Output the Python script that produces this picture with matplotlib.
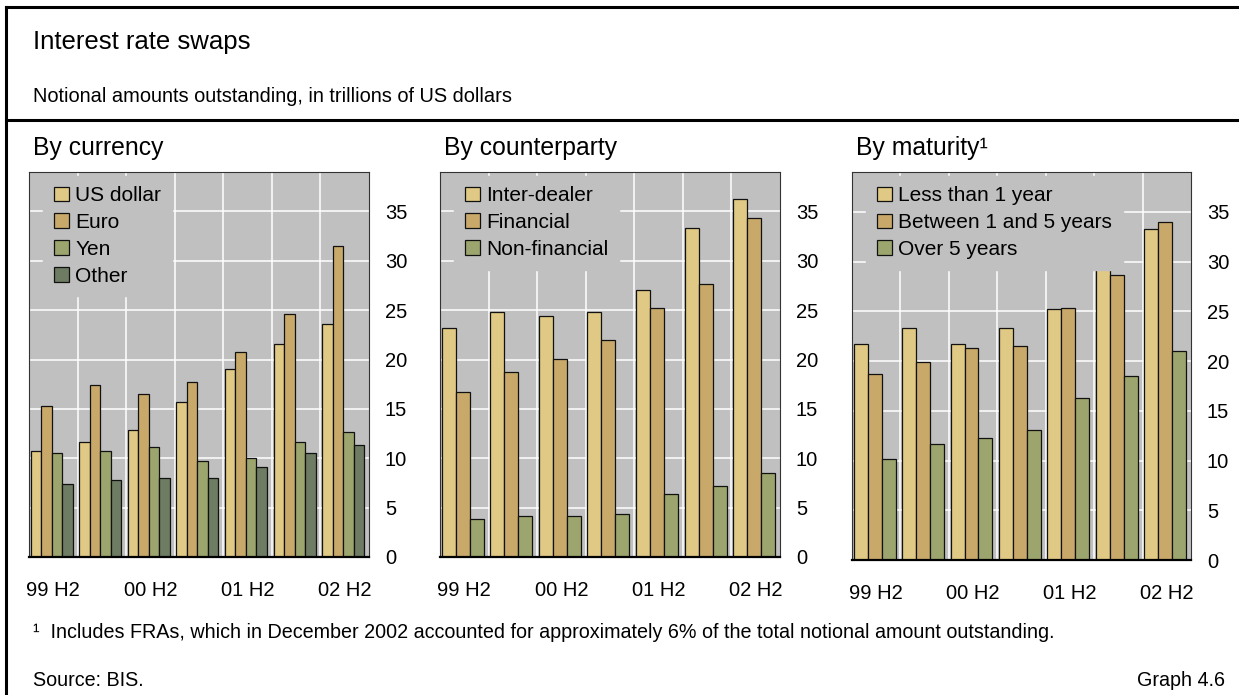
import matplotlib
matplotlib.use("Agg")
import matplotlib.pyplot as plt
from matplotlib.lines import Line2D
import numpy as np

plt.rcParams['font.family'] = ['Liberation Sans', 'DejaVu Sans']

# ---- data ----
periods = ["99 H2", "00 H1", "00 H2", "01 H1", "01 H2", "02 H1", "02 H2"]
tick_labels = ["99 H2", "", "00 H2", "", "01 H2", "", "02 H2"]

currency_names = ["US dollar", "Euro", "Yen", "Other"]
us_dollar = [10.7, 11.6, 12.9, 15.7, 19.0, 21.6, 23.6]
euro = [15.3, 17.4, 16.5, 17.7, 20.8, 24.6, 31.5]
yen = [10.5, 10.7, 11.1, 9.7, 10.0, 11.6, 12.7]
other = [7.4, 7.8, 8.0, 8.0, 9.1, 10.5, 11.3]

counterparty_names = ["Inter-dealer", "Financial", "Non-financial"]
inter_dealer = [23.2, 24.8, 24.4, 24.8, 27.0, 33.3, 36.3]
financial = [16.7, 18.7, 20.1, 22.0, 25.2, 27.7, 34.3]
non_financial = [3.8, 4.2, 4.2, 4.4, 6.4, 7.2, 8.5]

maturity_names = ["Less than 1 year", "Between 1 and 5 years", "Over 5 years"]
less_1y = [21.7, 23.3, 21.7, 23.3, 25.2, 30.2, 33.3]
between_1_5y = [18.7, 19.9, 21.3, 21.5, 25.3, 28.6, 34.0]
over_5y = [10.2, 11.7, 12.3, 13.1, 16.3, 18.5, 21.0]

colors = ["#E0C984", "#C8A96A", "#9CA56D", "#6D7C62"]
axes_bg = "#C0C0C0"

W, H = 1239, 695
fig = plt.figure(figsize=(W / 100, H / 100), dpi=100)


def px_axes(x, top, w, h):
    return fig.add_axes([x / W, 1 - (top + h) / H, w / W, h / H])


def panel(rect, title, names, series):
    ax = px_axes(*rect)
    ax.set_facecolor(axes_bg)
    n = len(series)
    ngroups = len(periods)
    total = 0.865
    bw = total / n
    start = 0.035
    idx = np.arange(ngroups)
    for k, (vals, col) in enumerate(zip(series, colors)):
        ax.bar(idx + start + bw * (k + 0.5), vals, width=bw, color=col,
               edgecolor="#111111", linewidth=0.9, zorder=2, label=names[k])
    ax.set_xlim(0, ngroups)
    ax.set_ylim(0, 39)
    ax.set_axisbelow(True)
    ax.set_yticks(range(0, 36, 5))
    ax.yaxis.tick_right()
    ax.tick_params(axis="y", length=0, pad=11.5, labelsize=14.5)
    ax.set_xticks(idx + 0.5, minor=False)
    ax.set_xticklabels(tick_labels)
    ax.tick_params(axis="x", which="both", length=0, pad=17, labelsize=14.5)
    ax.set_xticks(np.arange(1, ngroups), minor=True)
    ax.grid(True, which="minor", axis="x", color="white", linewidth=1.1)
    ax.grid(True, which="major", axis="y", color="white", linewidth=1.1)
    ax.grid(False, which="major", axis="x")
    for s in ["top", "left", "right"]:
        ax.spines[s].set_color("#333333")
        ax.spines[s].set_linewidth(0.8)
    ax.spines["bottom"].set_color("black")
    ax.spines["bottom"].set_linewidth(1.6)
    leg = ax.legend(loc="upper left", bbox_to_anchor=(0.042, 0.99),
                    borderaxespad=0, fontsize=15, frameon=True,
                    fancybox=False, facecolor=axes_bg, edgecolor=axes_bg,
                    framealpha=1, handlelength=0.72, handleheight=0.72,
                    handletextpad=0.32, labelspacing=0.38, borderpad=0.5)
    leg.set_zorder(5)
    fig.text(rect[0] / W + 4 / W, 1 - 148 / H, title, fontsize=17.8,
             va="center", ha="left")
    return ax


panel((29, 172, 340, 385), "By currency", currency_names,
      [us_dollar, euro, yen, other])
panel((440, 172, 340, 385), "By counterparty", counterparty_names,
      [inter_dealer, financial, non_financial])
panel((852, 172, 339, 388), "By maturity\u00b9", maturity_names,
      [less_1y, between_1_5y, over_5y])

# header / footer texts
fig.text(33 / W, 1 - 42 / H, "Interest rate swaps", fontsize=18.5,
         va="center", ha="left")
fig.text(33 / W, 1 - 97 / H,
         "Notional amounts outstanding, in trillions of US dollars",
         fontsize=14.4, va="center", ha="left")
fig.text(33 / W, 1 - 633 / H,
         "\u00b9  Includes FRAs, which in December 2002 accounted for approximately "
         "6% of the total notional amount outstanding.",
         fontsize=14.2, va="center", ha="left")
fig.text(33 / W, 1 - 680 / H, "Source: BIS.", fontsize=14.2, va="center", ha="left")
fig.text(1225 / W, 1 - 680 / H, "Graph 4.6", fontsize=14.2, va="center", ha="right")

# frame lines
fig.add_artist(Line2D([6 / W, 1], [1 - 7 / H, 1 - 7 / H], color="black", lw=2.2))
fig.add_artist(Line2D([6 / W, 1], [1 - 120 / H, 1 - 120 / H], color="black", lw=2.2))
fig.add_artist(Line2D([6 / W, 6 / W], [0, 1 - 7 / H], color="black", lw=2.2))

fig.savefig("out.png", dpi=100)
